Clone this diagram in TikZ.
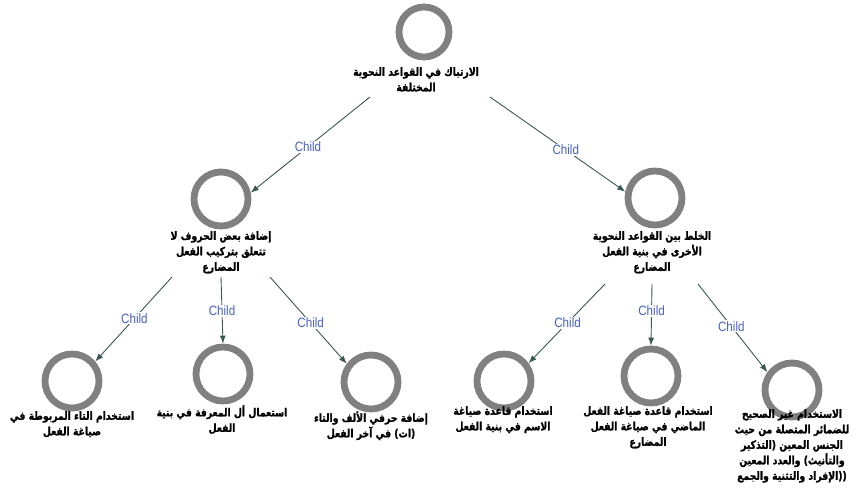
\documentclass[tikz,border=0pt]{standalone}
\usepackage{fontspec}
\setmainfont{Liberation Sans}
\newfontfamily\ar[Script=Arabic, FakeStretch=0.82, BoldFeatures={FakeBold=1.2}]{DejaVu Sans}
\newfontfamily\lat[FakeStretch=0.82, BoldFeatures={FakeBold=1.2}]{DejaVu Sans}
\newfontfamily\lblfont[FakeStretch=0.86]{Liberation Sans}
\TeXXeTstate=1
\usetikzlibrary{arrows.meta}
\definecolor{ring}{RGB}{128,128,128}
\definecolor{edgec}{RGB}{58,88,82}
\definecolor{lblc}{RGB}{70,95,195}
\tikzset{
  ringnode/.style={circle, draw=ring, line width=6.8pt, minimum size=54pt, inner sep=0pt},
  txt/.style={font=\ar\bfseries\fontsize{11.3}{15.5}\selectfont, align=center, inner sep=0pt, anchor=north},
  conn/.style={draw=edgec, line width=0.9pt, -{Latex[length=8pt,width=6pt]}},
  lbl/.style={font=\lblfont\fontsize{13.5}{15}\selectfont, text=lblc, fill=white, inner sep=1pt}
}
\begin{document}
\begin{tikzpicture}[x=1pt,y=-1pt]
\useasboundingbox (0,0) rectangle (857,494);
% circles
\node[ringnode, minimum size=50pt] (root) at (424,32) {};
\node[ringnode] (L) at (221,199) {};
\node[ringnode] (R) at (655,198) {};
\node[ringnode] (B1) at (72,381) {};
\node[ringnode] (B2) at (223,374) {};
\node[ringnode] (B3) at (371,382) {};
\node[ringnode] (B4) at (504,381) {};
\node[ringnode] (B5) at (651,376) {};
\node[ringnode] (B6) at (792,390) {};
% texts
\node[txt] (troot) at (416,67) {\beginR الارتباك في القواعد النحوية\endR\\\beginR المختلفة\endR};
\node[txt] (tL) at (221,231) {\beginR إضافة بعض الحروف لا\endR\\\beginR تتعلق بتركيب الفعل\endR\\\beginR المضارع\endR};
\node[txt] (tR) at (652,231) {\beginR الخلط بين القواعد النحوية\endR\\\beginR الأخرى في بنية الفعل\endR\\\beginR المضارع\endR};
\node[txt] (tB1) at (72,411) {\beginR استخدام التاء المربوطة في\endR\\\beginR صياغة الفعل\endR};
\node[txt] (tB2) at (222,405) {\beginR استعمال أل المعرفة في بنية\endR\\\beginR الفعل\endR};
\node[txt] (tB3) at (371,411) {\beginR إضافة حرفي الألف والتاء\endR\\\beginR في آخر الفعل\endR\ {\lat\bfseries(}ات{\lat\bfseries)}};
\node[txt] (tB4) at (503,406) {\beginR استخدام قاعدة صياغة\endR\\\beginR الاسم في بنية الفعل\endR};
\node[txt] (tB5) at (648,406) {\beginR استخدام قاعدة صياغة الفعل\endR\\\beginR الماضي في صياغة الفعل\endR\\\beginR المضارع\endR};
\node[txt] (tB6) at (792,409) {\beginR الاستخدام غير الصحيح\endR\\\beginR للضمائر المتصلة من حيث\endR\\\beginR التذكير\endR{\lat\bfseries)}\ \beginR الجنس المعين\endR\\\beginR والعدد المعين\endR\ {\lat\bfseries(}\beginR والتأنيث\endR\\\beginR الإفراد والتثنية والجمع\endR{\lat\bfseries))}};
% start points
\coordinate (s1) at (370,97);
\coordinate (s2) at (490,97);
\coordinate (s3) at (172,277);
\coordinate (s4) at (221,277);
\coordinate (s5) at (270,277);
\coordinate (s6) at (605,284);
\coordinate (s7) at (652,284);
\coordinate (s8) at (698,284);
% connectors
\draw[conn] (s1) -- node[lbl, pos=0.52] {Child} (L.12);
\draw[conn] (s2) -- node[lbl, pos=0.56] {Child} (R.168);
\draw[conn] (s3) -- node[lbl, pos=0.49] {Child} (B1.40);
\draw[conn] (s4) -- node[lbl, pos=0.51] {Child} (B2.90);
\draw[conn] (s5) -- node[lbl, pos=0.53] {Child} (B3.143);
\draw[conn] (s6) -- node[lbl, pos=0.49] {Child} (B4.36);
\draw[conn] (s7) -- node[lbl, pos=0.44] {Child} (B5.90);
\draw[conn] (s8) -- node[lbl, pos=0.48] {Child} (B6.144);
\end{tikzpicture}
\end{document}
